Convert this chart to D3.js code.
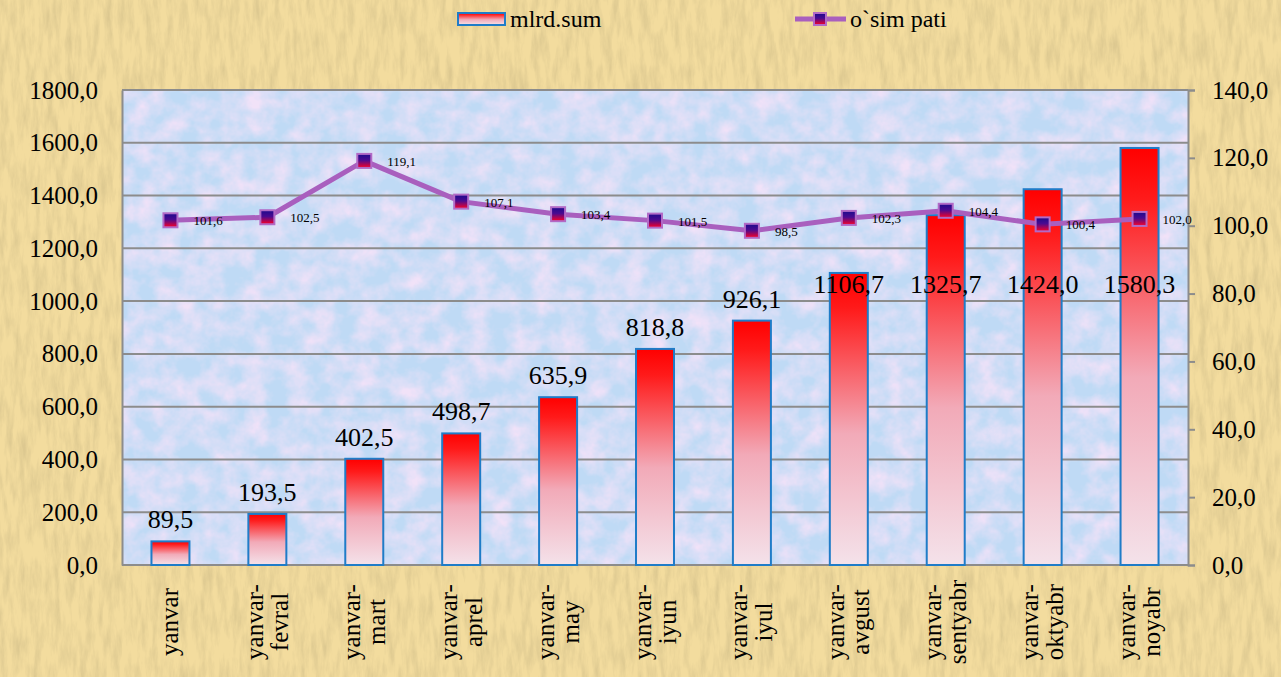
<!DOCTYPE html>
<html>
<head>
<meta charset="utf-8">
<script src="https://cdn.jsdelivr.net/npm/d3@7"></script>
<style>
  html, body { margin: 0; padding: 0; background: #f3dca2; }
  svg { display: block; }
  svg text { font-family: "Liberation Serif", "Times New Roman", serif; fill: #000; }
</style>
</head>
<body>
<svg id="chart"></svg>
<script>
"use strict";

// chart data
var months = ['yanvar', 'yanvar-fevral', 'yanvar-mart', 'yanvar-aprel', 'yanvar-may', 'yanvar-iyun',
    'yanvar-iyul', 'yanvar-avgust', 'yanvar-sentyabr', 'yanvar-oktyabr', 'yanvar-noyabr'];
var sums = [89.5, 193.5, 402.5, 498.7, 635.9, 818.8, 926.1, 1106.7, 1325.7, 1424.0, 1580.3];
var growth = [101.6, 102.5, 119.1, 107.1, 103.4, 101.5, 98.5, 102.3, 104.4, 100.4, 102.0];
var leftTicks = [0, 200, 400, 600, 800, 1000, 1200, 1400, 1600, 1800];
var rightTicks = [0, 20, 40, 60, 80, 100, 120, 140];
var seriesNames = ['mlrd.sum', 'o`sim pati'];

var W = 1281, H = 677;
var plot = { left: 122, right: 1188, top: 90, bottom: 565 };
var serif = '"Liberation Serif", "Times New Roman", serif';

var fmt = v => v.toFixed(1).replace('.', ',');

var svg = d3.select('#chart').attr('width', W).attr('height', H);
var defs = svg.append('defs');

// textures
var paper = defs.append('filter').attr('id', 'paper')
    .attr('x', 0).attr('y', 0).attr('width', '100%').attr('height', '100%');
paper.append('feTurbulence').attr('type', 'fractalNoise')
    .attr('baseFrequency', '0.15 0.03').attr('numOctaves', 5).attr('seed', 7);
paper.append('feColorMatrix').attr('type', 'matrix')
    .attr('values', '0 0 0 0 0.72  0 0 0 0 0.58  0 0 0 0 0.28  2.0 0 0 0 -0.75');

var cloud = defs.append('filter').attr('id', 'cloud')
    .attr('x', 0).attr('y', 0).attr('width', '100%').attr('height', '100%');
cloud.append('feTurbulence').attr('type', 'fractalNoise')
    .attr('baseFrequency', '0.045').attr('numOctaves', 4).attr('seed', 11);
cloud.append('feColorMatrix').attr('type', 'matrix')
    .attr('values', '0 0 0 0 0.88  0 0 0 0 0.76  0 0 0 0 0.94  1.8 0 0 0 -0.55');

var barGrad = defs.append('linearGradient').attr('id', 'barGrad')
    .attr('x1', 0).attr('y1', 0).attr('x2', 0).attr('y2', 1);
[['0%', '#ff0000'], ['12%', '#ff1a1a'], ['55%', '#f2aab8'], ['100%', '#f4e2ea']].forEach(s => {
    barGrad.append('stop').attr('offset', s[0]).attr('stop-color', s[1]);
});

var markGrad = defs.append('linearGradient').attr('id', 'markGrad')
    .attr('x1', 0).attr('y1', 0).attr('x2', 0).attr('y2', 1);
[['0%', '#1c0a8c'], ['45%', '#4a0a90'], ['100%', '#ff0022']].forEach(s => {
    markGrad.append('stop').attr('offset', s[0]).attr('stop-color', s[1]);
});

// backgrounds
svg.append('rect').attr('width', W).attr('height', H).attr('fill', '#f3dc9e');
svg.append('rect').attr('width', W).attr('height', H).attr('filter', 'url(#paper)');

var pw = plot.right - plot.left, ph = plot.bottom - plot.top;
svg.append('rect').attr('x', plot.left).attr('y', plot.top).attr('width', pw).attr('height', ph)
    .attr('fill', '#bfdaf5');
svg.append('rect').attr('x', plot.left).attr('y', plot.top).attr('width', pw).attr('height', ph)
    .attr('filter', 'url(#cloud)');

// scales
var x = d3.scaleBand().domain(months).range([plot.left, plot.right])
    .paddingInner(0.608).paddingOuter(0.304);
var yL = d3.scaleLinear().domain([0, 1800]).range([plot.bottom, plot.top]);
var yR = d3.scaleLinear().domain([0, 140]).range([plot.bottom, plot.top]);
var cx = d => x(d) + x.bandwidth() / 2;

// grid
svg.append('g').selectAll('line').data(leftTicks.slice(1)).join('line')
    .attr('x1', plot.left).attr('x2', plot.right)
    .attr('y1', d => yL(d)).attr('y2', d => yL(d))
    .attr('stroke', '#8c8c8c').attr('stroke-width', 2);

// axes
var axisL = svg.append('g').attr('transform', `translate(${plot.left},0)`)
    .call(d3.axisLeft(yL).tickValues(leftTicks).tickFormat(fmt).tickSize(0).tickPadding(24));
var axisR = svg.append('g').attr('transform', `translate(${plot.right},0)`)
    .call(d3.axisRight(yR).tickValues(rightTicks).tickFormat(fmt).tickSize(7).tickPadding(17));
[axisL, axisR].forEach(a => {
    a.attr('font-family', null).attr('font-size', null);
    a.select('.domain').attr('stroke', '#8c8c8c').attr('stroke-width', 2);
    a.selectAll('.tick line').attr('stroke', '#8c8c8c').attr('stroke-width', 2);
    a.selectAll('.tick text').style('font-family', serif)
        .style('font-size', '25px').attr('fill', '#000');
});
svg.append('line').attr('x1', plot.left).attr('x2', plot.right)
    .attr('y1', plot.bottom).attr('y2', plot.bottom)
    .attr('stroke', '#8c8c8c').attr('stroke-width', 2);

// bars
svg.append('g').selectAll('rect').data(sums).join('rect')
    .attr('x', (d, i) => x(months[i]))
    .attr('y', d => yL(d))
    .attr('width', x.bandwidth())
    .attr('height', d => plot.bottom - yL(d))
    .attr('fill', 'url(#barGrad)')
    .attr('stroke', '#1f7cc8').attr('stroke-width', 2);

// bar labels (tall bars get their label pulled down inside the bar)
svg.append('g').selectAll('text').data(sums).join('text')
    .attr('x', (d, i) => cx(months[i]))
    .attr('y', d => Math.max(yL(d) - 22, 284) + 9)
    .attr('text-anchor', 'middle')
    .style('font-family', serif)
    .style('font-size', '26px')
    .text(fmt);

// growth line
var line = d3.line().x((d, i) => cx(months[i])).y(d => yR(d));
svg.append('path').datum(growth)
    .attr('d', line).attr('fill', 'none')
    .attr('stroke', '#a95fbe').attr('stroke-width', 5).attr('stroke-linejoin', 'round');

svg.append('g').selectAll('rect').data(growth).join('rect')
    .attr('x', (d, i) => cx(months[i]) - 7)
    .attr('y', d => yR(d) - 7)
    .attr('width', 14).attr('height', 14)
    .attr('fill', 'url(#markGrad)')
    .attr('stroke', '#b26ac6').attr('stroke-width', 2);

svg.append('g').selectAll('text').data(growth).join('text')
    .attr('x', (d, i) => cx(months[i]) + 23)
    .attr('y', d => yR(d) + 5)
    .style('font-family', serif)
    .style('font-size', '13px')
    .text(fmt);

// category labels, rotated, two lines
var xl = svg.append('g').selectAll('g').data(months).join('g')
    .attr('transform', d => `translate(${cx(d)},622) rotate(-90)`);
xl.each(function(d) {
    var cut = d.indexOf('-');
    var parts = cut > 0 ? [d.slice(0, cut + 1), d.slice(cut + 1)] : [d];
    var g = d3.select(this);
    parts.forEach((p, k) => {
        g.append('text')
            .attr('x', 0)
            .attr('y', (k - (parts.length - 1) / 2) * 25 + 8)
            .attr('text-anchor', 'middle')
            .style('font-family', serif)
            .style('font-size', '25px')
            .text(p);
    });
});

// legend
var lg = svg.append('g');
lg.append('rect').attr('x', 458).attr('y', 13).attr('width', 47).attr('height', 12)
    .attr('fill', 'url(#barGrad)').attr('stroke', '#1f7cc8').attr('stroke-width', 2);
lg.append('text').attr('x', 510).attr('y', 27)
    .style('font-family', serif).style('font-size', '24px').text(seriesNames[0]);
lg.append('line').attr('x1', 795).attr('x2', 846).attr('y1', 19).attr('y2', 19)
    .attr('stroke', '#a95fbe').attr('stroke-width', 5);
lg.append('rect').attr('x', 814).attr('y', 13).attr('width', 12).attr('height', 12)
    .attr('fill', 'url(#markGrad)').attr('stroke', '#b26ac6').attr('stroke-width', 2);
lg.append('text').attr('x', 850).attr('y', 27)
    .style('font-family', serif).style('font-size', '24px').text(seriesNames[1]);
</script>
</body>
</html>
